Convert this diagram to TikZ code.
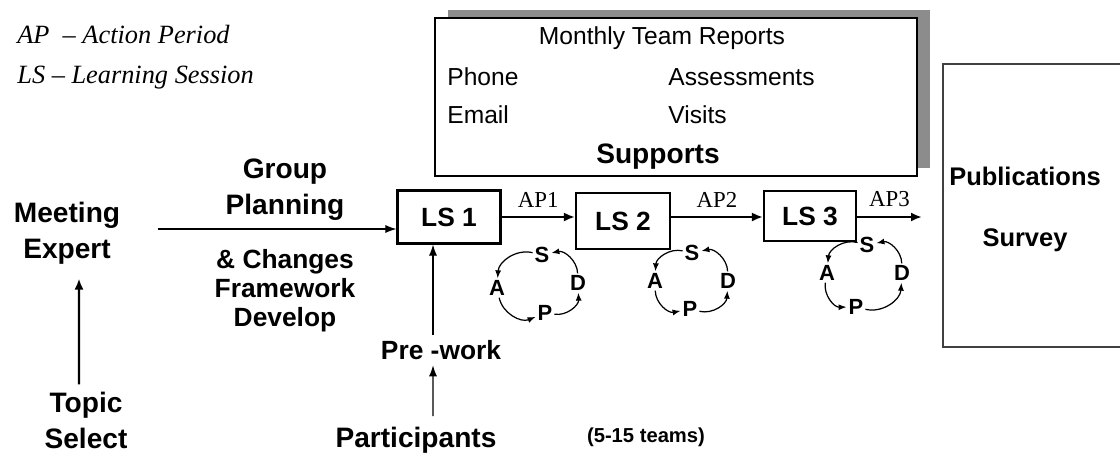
\documentclass[tikz,border=0pt]{standalone}
\usepackage{fontspec}
\setmainfont{Liberation Sans}
\newfontfamily\timesfont{Liberation Serif}
\usetikzlibrary{arrows.meta, positioning, shadows, calc}

\begin{document}
\begin{tikzpicture}[
    x=0.02cm, y=-0.02cm,
    big/.style={font=\bfseries\fontsize{16}{20.5}\selectfont, align=center, inner sep=0pt},
    small/.style={font=\bfseries\fontsize{15}{16.5}\selectfont, align=center, inner sep=0pt},
    plain/.style={font=\fontsize{14}{16}\selectfont, inner sep=0pt},
    legend/.style={font=\timesfont\itshape\fontsize{15}{17}\selectfont, anchor=west, inner sep=0pt},
    aplabel/.style={font=\timesfont\fontsize{13}{15}\selectfont, inner sep=0pt},
    lsbox/.style={draw, line width=1.2pt, fill=white, font=\bfseries\fontsize{15}{17}\selectfont},
    letter/.style={font=\bfseries\fontsize{12.5}{14}\selectfont, inner sep=1pt},
    arrow/.style={-{Latex[length=2.2mm, width=1.6mm]}, line width=0.6pt},
    bigarrow/.style={-{Latex[length=2.2mm, width=1.8mm]}, line width=1.3pt},
    pdsa/.style={-{Latex[length=1.6mm, width=1.2mm]}, line width=0.7pt, bend right=50}
]
\useasboundingbox (0,0) rectangle (1120,454);
\clip (0,0) rectangle (1120,454);

% legend
\node[legend] (aplegend) at (17,34) {AP~~\textendash\ Action Period};
\node[legend] (lslegend) at (17,78) {LS \textendash\ Learning Session};

% supports
\node[draw, line width=1.5pt, fill=white, minimum width=9.64cm, minimum height=3.16cm,
      drop shadow={shadow xshift=0.26cm, shadow yshift=0.16cm, fill=gray!90, opacity=1}] (supports) at (676,97) {};
\node[plain] (monthly) at (662,38) {Monthly Team Reports};
\node[plain, anchor=west] (phone) at (447,77) {Phone};
\node[plain, anchor=west] (assess) at (668,77) {Assessments};
\node[plain, anchor=west] (email) at (447,115) {Email};
\node[plain, anchor=west] (visits) at (668,115) {Visits};
\node[big] (supp) at (658,157) {Supports};

% outcomes
\node[draw=black!75, line width=1.2pt, minimum width=3.64cm, minimum height=5.66cm] (pub) at (1034,205.5) {};
\node[small, font=\bfseries\fontsize{14.5}{16}\selectfont] (publications) at (1025,176) {Publications};
\node[small, font=\bfseries\fontsize{14.5}{16}\selectfont] (survey) at (1025,240) {Survey};

% learning sessions
\node[lsbox, minimum width=2.06cm, minimum height=1.06cm] (ls1) at (449,217) {LS 1};
\node[lsbox, minimum width=1.88cm, minimum height=1.12cm] (ls2) at (623,221) {LS 2};
\node[lsbox, minimum width=1.84cm, minimum height=1.0cm] (ls3) at (810,216) {LS 3};
\coordinate (ap3end) at (922,217);

\draw[bigarrow] (ls1.east) -- node[aplabel, above=5pt] {AP1} (ls1.east -| ls2.west);
\draw[bigarrow] (ls2.east |- ls1.east) -- node[aplabel, above=5pt] {AP2} (ls1.east -| ls3.west);
\draw[bigarrow] (ls3.east |- ls1.east) -- node[aplabel, above=5pt] {AP3} (ls1.east -| ap3end);

% study / act / plan / do
\foreach \i/\sx/\sy/\dx/\dy/\px/\py/\ax/\ay in {1/542/255/578/283/545/313/497/288,
    2/692/253/728/281/690/309/655/281, 3/867/245/902/273/856/307/827/273} {
  \node[letter] (s\i) at (\sx,\sy) {S};
  \node[letter] (d\i) at (\dx,\dy) {D};
  \node[letter] (p\i) at (\px,\py) {P};
  \node[letter] (a\i) at (\ax,\ay) {A};
  \draw[pdsa] (s\i) to (a\i);
  \draw[pdsa] (a\i) to (p\i);
  \draw[pdsa] (p\i) to (d\i);
  \draw[pdsa] (d\i) to (s\i);
}

% left side
\node[big] (meeting) at (67,233) {Meeting\\Expert};
\node[big] (topic) at (86,420) {Topic\\Select};
\draw[bigarrow, shorten <=4pt, shorten >=8pt] ([xshift=-0.14cm]topic.north) -- ([xshift=0.24cm]meeting.south);

\node[big] (group) at (285,190) {Group\\Planning};
\node[small] (develop) at (285,291) {\& Changes\\Framework\\Develop};
\coordinate (gpstart) at (158,229);
\draw[arrow] (gpstart) -- (gpstart -| ls1.west);

% bottom
\node[small] (prework) at (441,350) {Pre -work};
\node[big] (participants) at (416,440) {Participants};
\node[font=\bfseries\fontsize{11.5}{13}\selectfont] (teams) at (646,437) {(5-15 teams)};
\draw[arrow, shorten <=3pt] ([xshift=-0.16cm]prework.north) -- ([xshift=-0.16cm]prework.north |- ls1.south);
\draw[arrow, shorten <=6pt, shorten >=3pt] ([xshift=0.34cm]participants.north) -- ([xshift=-0.16cm]prework.south);

\end{tikzpicture}
\end{document}
